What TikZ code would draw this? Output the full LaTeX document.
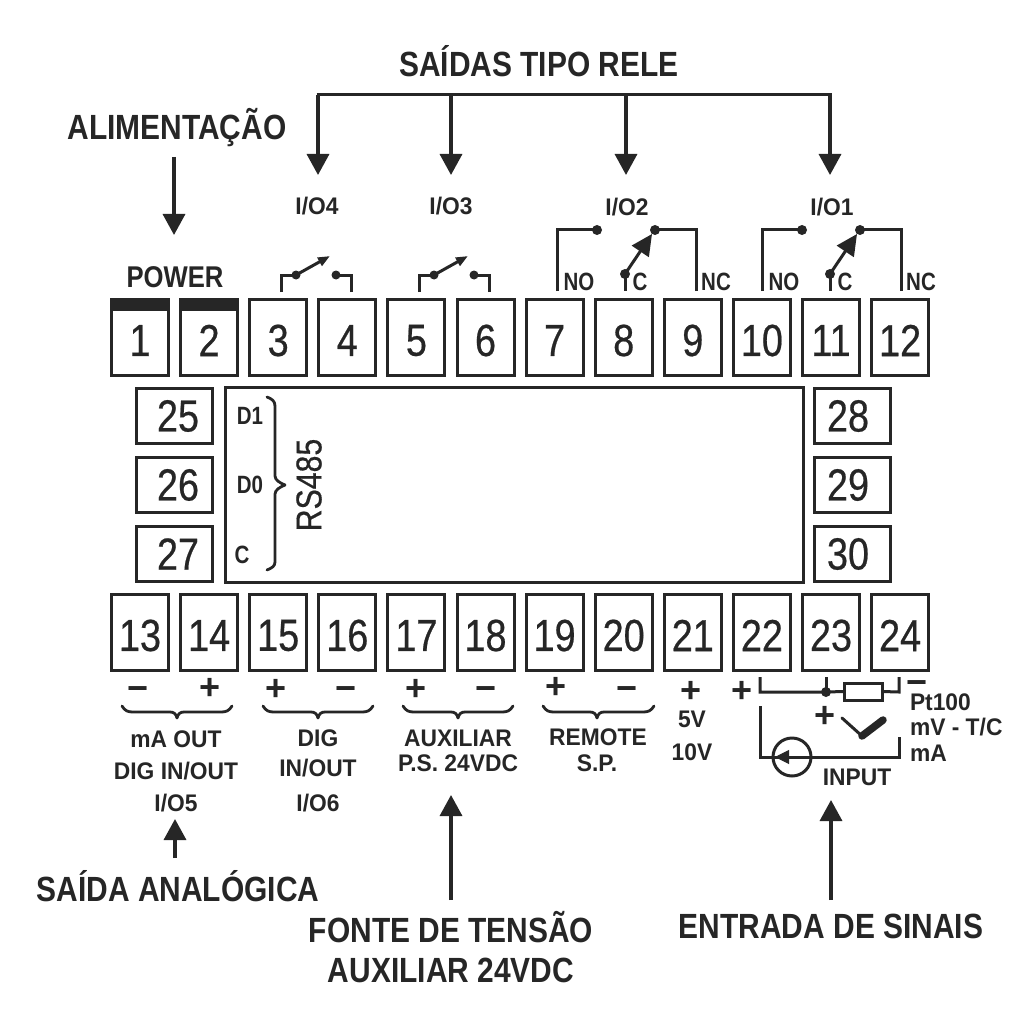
\documentclass[tikz,border=0pt]{standalone}
\usepackage{fontspec}
\setmainfont{Liberation Sans}
\newfontfamily\fbn[FakeStretch=0.82]{Liberation Sans Bold}
\newfontfamily\fhd[FakeStretch=0.855]{Liberation Sans Bold}
\newfontfamily\fbw[FakeStretch=0.95]{Liberation Sans Bold}
\newfontfamily\frn[FakeStretch=0.84,FakeBold=0.5]{Liberation Sans}
\usetikzlibrary{arrows.meta}
\definecolor{ink}{HTML}{262626}
\newcommand{\fsz}[1]{\fontsize{#1}{#1}\selectfont}
\tikzset{
  x=1pt,y=-1pt,
  every node/.style={text=ink,inner sep=0pt,outer sep=0pt},
  termbox/.style={draw=ink,line width=3pt,minimum width=57pt,minimum height=75.5pt,fill=white},
  sidebox/.style={draw=ink,line width=3pt,minimum width=76pt,minimum height=55.5pt,fill=white},
  num/.style={font=\frn\fsz{45}},
  head/.style={font=\fhd\fsz{35}},
  small/.style={font=\fbw\fsz{24}},
  inner/.style={font=\fbn\fsz{25}},
  sign/.style={font=\bfseries\fsz{36}},
  wire/.style={draw=ink,line width=3pt,line cap=butt,line join=miter},
  thinwire/.style={draw=ink,line width=2.8pt,line join=round,line cap=round},
  dot/.style={circle,fill=ink,minimum size=10pt},
  bigarrow/.style={draw=ink,line width=3.4pt,-{Triangle[length=21pt,width=22pt]}},
  swarrow/.style={draw=ink,line width=3pt,-{Triangle[length=21pt,width=20pt]}},
  noarrow/.style={draw=ink,line width=3pt,-{Triangle[length=12pt,width=9pt]}},
}
\begin{document}
\begin{tikzpicture}
\useasboundingbox (0,0) rectangle (1024,1024);
\fill[white] (0,0) rectangle (1024,1024);
% terminals
\foreach \n in {1,...,12}{
  \node[termbox] (b\n) at ({140+69.1*(\n-1)},337.5) {};
  \node[num] (n\n) at ([yshift=-3pt]b\n.center) {\n};
}
\foreach \n in {13,...,24}{
  \node[termbox] (b\n) at ({140+69.1*(\n-13)},632.5) {};
  \node[num] (n\n) at ([yshift=-3pt]b\n.center) {\n};
}
\fill[ink] (b1.north west) ++(-1.5,-1.5) rectangle ++(60,13);
\fill[ink] (b2.north west) ++(-1.5,-1.5) rectangle ++(60,13);
\node[sidebox] (b25) at (174.5,416) {}; \node[sidebox] (b26) at (174.5,485) {}; \node[sidebox] (b27) at (174.5,554) {};
\node[sidebox] (b28) at (852,416) {}; \node[sidebox] (b29) at (852,485) {}; \node[sidebox] (b30) at (852,554) {};
\node[num] (n25) at (178,416) {25}; \node[num] (n26) at (178,485) {26}; \node[num] (n27) at (178,554) {27};
\node[num] (n28) at (848,416) {28}; \node[num] (n29) at (848,485) {29}; \node[num] (n30) at (848,554) {30};
\node[draw=ink,line width=3pt,minimum width=578pt,minimum height=195pt] (panel) at (514,485) {};
% RS485
\node[inner] (d1) at (250,416) {D1};
\node[inner] (d0) at (250,485) {D0};
\node[inner] (dc) at (242,555) {C};
\draw[thinwire] (267,397) .. controls (272,399) and (275,401) .. (275,406) -- (275,476) .. controls (275,480) and (280,483) .. (285,485) .. controls (280,487) and (275,490) .. (275,494) -- (275,562) .. controls (275,566) and (272,568) .. (267,570);
\node[font=\frn\fsz{36},rotate=90] (rs) at (309,485) {RS485};
% headings
\node[head] (hrele) at (539,61) {SAÍDAS TIPO RELE};
\node[head] (halim) at (177,128) {ALIMENTAÇÃO};
\node[font=\fhd\fsz{30}] (power) at (175,277) {POWER};
\node[head] (hana) at (178,886) {SAÍDA ANALÓGICA};
\node[head] (hfonte) at (451,927) {FONTE DE TENSÃO};
\node[head] (haux) at (451,970) {AUXILIAR 24VDC};
\node[head] (hent) at (831,926) {ENTRADA DE SINAIS};
% top bus
\coordinate (busl) at (318,95); \coordinate (busa) at (451,95); \coordinate (busb) at (626,95); \coordinate (busr) at (830,95);
\coordinate (ta) at (318,175); \coordinate (tb) at (451,175); \coordinate (tc) at (626,175); \coordinate (td) at (830,175);
\draw[wire] ([xshift=-1.5pt]busl) -- ([xshift=1.5pt]busr);
\draw[bigarrow] (busl) -- (ta);
\draw[bigarrow] (busa) -- (tb);
\draw[bigarrow] (busb) -- (tc);
\draw[bigarrow] (busr) -- (td);
\coordinate (alimtip) at (174,235);
\draw[bigarrow] (174,157) -- (alimtip);
\coordinate (anatip) at (175,819); \coordinate (auxtip) at (451,795); \coordinate (inptip) at (831,800);
\draw[bigarrow] (175,858) -- (anatip);
\draw[bigarrow] (451,900) -- (auxtip);
\draw[bigarrow] (831,900) -- (inptip);
% I/O labels
\node[small] (io4) at (317,206) {I/O4};
\node[small] (io3) at (451,206) {I/O3};
\node[small] (io2) at (627,207) {I/O2};
\node[small] (io1) at (832,207) {I/O1};
% open switches
\foreach \o/\k in {0/a,138/b}{
  \begin{scope}[xshift=\o pt]
    \node[dot,minimum size=9pt] (s\k1) at (296,275) {};
    \node[dot,minimum size=9pt] (s\k2) at (336,275) {};
    \draw[wire] (281,292) -- (281,275) -- (s\k1.center);
    \draw[wire] (351,292) -- (351,275) -- (s\k2.center);
    \coordinate (s\k t) at (330,256);
    \draw[noarrow] (s\k1.center) -- (s\k t);
  \end{scope}
}
% changeover relays
\foreach \o/\k in {0/c,205/d}{
  \begin{scope}[xshift=\o pt]
    \node[dot] (r\k no) at (597,230) {};
    \node[dot] (r\k c) at (625,274) {};
    \node[dot] (r\k nc) at (655,230) {};
    \draw[wire] (557,291) -- (557,230) -- (r\k no.center);
    \draw[wire] (696,291) -- (696,230) -- (r\k nc.center);
    \draw[wire] (r\k c.center) -- (625,291);
    \coordinate (r\k t) at (652,234);
    \draw[swarrow] (r\k c.center) -- (r\k t);
    \node[inner] (tno\k) at (579,282) {NO};
    \node[inner] (tc\k) at (640,282) {C};
    \node[inner] (tnc\k) at (716,282) {NC};
  \end{scope}
}
% signs
\foreach \nm/\x/\y/\s in {m13/138/694/−,p14/210/689/+,p15/276/690/+,m16/346/694/−,p17/416/690/+,m18/486/694/−,p19/556/688/+,m20/627/694/−,p21/691/692/+,p22/742/692/+,p23/825/717/+,m24/917/688/−}{
  \node[sign] (\nm) at (\x,\y) {\s};
}
% braces
\foreach \l/\t/\r in {122/177/232,263/318/373,403/458/513,543/597/654}{
  \draw[thinwire] (\l,706) .. controls (\l+3,711) and (\l+6,712) .. (\l+11,712) -- (\t-7,712) .. controls (\t-3,712) and (\t-1,714) .. (\t,718) .. controls (\t+1,714) and (\t+3,712) .. (\t+7,712) -- (\r-11,712) .. controls (\r-6,712) and (\r-3,711) .. (\r,706);
}
% bottom labels
\node[small] (t1a) at (176,739) {mA OUT};
\node[small] (t1b) at (176,771) {DIG IN/OUT};
\node[small] (t1c) at (176,803) {I/O5};
\node[small] (t2a) at (318,738) {DIG};
\node[small] (t2b) at (318,768) {IN/OUT};
\node[small] (t2c) at (318,803) {I/O6};
\node[small] (t3a) at (458,738) {AUXILIAR};
\node[small] (t3b) at (458,763) {P.S. 24VDC};
\node[small] (t4a) at (598,737) {REMOTE};
\node[small] (t4b) at (597,763) {S.P.};
\node[small] (t5a) at (692,719) {5V};
\node[small] (t5b) at (692,752) {10V};
% input network
\node[dot,minimum size=10pt] (jn) at (826,692) {};
\node[draw=ink,line width=3pt,minimum width=38pt,minimum height=17pt,fill=white] (res) at (863,691.5) {};
\draw[wire] (760,677) -- (760,692) -- (jn.center) -- (res.west);
\draw[wire] (jn.center) -- (826,677);
\draw[wire] (res.east) -- (899,692) -- (899,677);
\coordinate (tcv) at (862,736);
\draw[draw=ink,line width=3pt,line cap=round] (842,718) -- (tcv);
\draw[draw=ink,line width=7.5pt,line cap=round] (tcv) -- (883,720);
\node[draw=ink,line width=3pt,circle,minimum size=38pt] (src) at (792,757) {};
\draw[wire] (760,706) -- (760,757) -- (src.west);
\draw[wire] (899,737) -- (899,757) -- (src.east);
\draw[wire] (src.west) -- (src.east);
\coordinate (srcb) at (790,757); \coordinate (srct) at (775,757);
\draw[draw=ink,line width=1pt,-{Triangle[length=14pt,width=14pt]}] (srcb) -- (srct);
\node[small,anchor=west] (lpt) at (910,702) {Pt100};
\node[small,anchor=west] (lmv) at (910,727) {mV - T/C};
\node[small,anchor=west] (lma) at (910,753) {mA};
\node[small] (linp) at (857,777) {INPUT};
\end{tikzpicture}
\end{document}
